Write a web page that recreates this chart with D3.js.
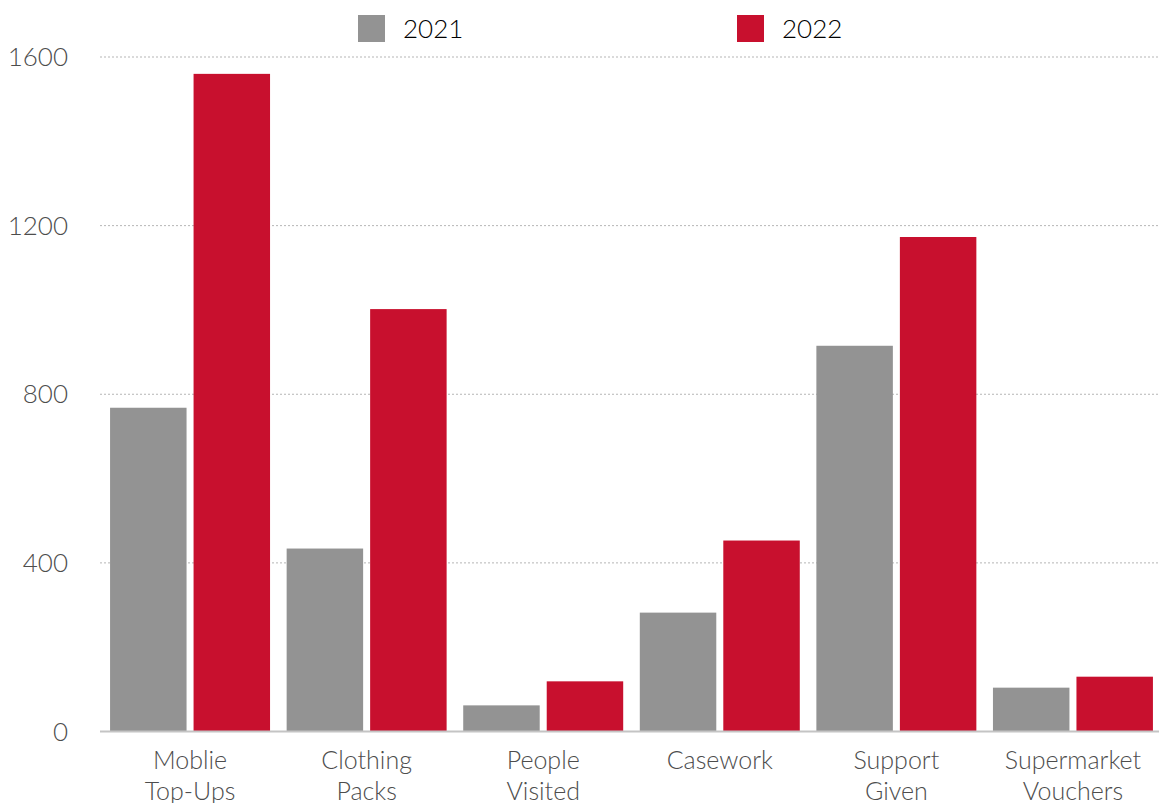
<!DOCTYPE html>
<html>
<head>
<meta charset="utf-8">
<script src="https://cdn.jsdelivr.net/npm/d3@7"></script>
<style>
  body { margin: 0; background: #fff; }
  text { font-family: Lato, "Open Sans", sans-serif; font-weight: 300; }
</style>
</head>
<body>
<div id="chart"></div>
<script>
var categories = [["Moblie", "Top-Ups"], ["Clothing", "Packs"], ["People", "Visited"], ["Casework"], ["Support", "Given"], ["Supermarket", "Vouchers"]];
var years = ["2021", "2022"];
var values2021 = [768, 434, 62, 282, 915, 104];
var values2022 = [1560, 1002, 119, 453, 1173, 130];
var yTicks = [0, 400, 800, 1200, 1600];
var colors = ["#939393", "#c8102e"];

var svgWidth = 1159;
var svgHeight = 803;
var margin = { top: 57, right: 0, bottom: 71.5, left: 100 };
var height = svgHeight - margin.bottom;

var svg = d3.select("#chart")
  .append("svg")
  .attr("width", svgWidth)
  .attr("height", svgHeight);

var rows = categories.map(function(c, i) {
  return { cat: i, vals: [values2021[i], values2022[i]] };
});

var x0 = d3.scaleBand()
  .domain(d3.range(categories.length))
  .range([margin.left, 1163])
  .paddingInner(0.094)
  .paddingOuter(0.057);
var x1 = d3.scaleBand()
  .domain(years)
  .range([0, x0.bandwidth()])
  .paddingInner(0.084);
var y = d3.scaleLinear()
  .domain([0, 1600])
  .range([height, margin.top]);

// grid lines
svg.append("g")
  .selectAll("line")
  .data(yTicks.slice(1))
  .enter()
  .append("line")
  .attr("x1", margin.left)
  .attr("x2", svgWidth)
  .attr("y1", d => y(d))
  .attr("y2", d => y(d))
  .attr("stroke", "#b5b5b5")
  .attr("stroke-width", 1)
  .attr("stroke-dasharray", "2,2");

// y labels
svg.append("g")
  .selectAll("text")
  .data(yTicks)
  .enter()
  .append("text")
  .attr("x", 68)
  .attr("y", d => y(d))
  .attr("dy", "0.35em")
  .attr("text-anchor", "end")
  .attr("font-size", 26)
  .attr("fill", "#4d4d4d")
  .text(d => d);

// bars
var groups = svg.append("g")
  .selectAll("g")
  .data(rows)
  .enter()
  .append("g")
  .attr("transform", d => `translate(${x0(d.cat)},0)`);
groups.selectAll("rect")
  .data(d => d.vals.map((v, j) => ({ year: years[j], v: v, j: j })))
  .enter()
  .append("rect")
  .attr("x", d => x1(d.year))
  .attr("width", x1.bandwidth())
  .attr("y", d => y(d.v))
  .attr("height", d => height - y(d.v))
  .attr("fill", d => colors[d.j]);

// x axis line
svg.append("line")
  .attr("x1", margin.left)
  .attr("x2", svgWidth)
  .attr("y1", height)
  .attr("y2", height)
  .attr("stroke", "#c4c4c4")
  .attr("stroke-width", 2);

// x labels
var xl = svg.append("g")
  .selectAll("text")
  .data(categories)
  .enter()
  .append("text")
  .attr("text-anchor", "middle")
  .attr("font-size", 25)
  .attr("fill", "#4d4d4d")
  .attr("transform", (d, i) => `translate(${x0(i) + x0.bandwidth() / 2},${height + 37})`);
xl.selectAll("tspan")
  .data(d => d)
  .enter()
  .append("tspan")
  .attr("x", 0)
  .attr("y", (d, i) => i * 31)
  .text(d => d);

// legend
var legendX = [358, 737];
var legend = svg.append("g")
  .selectAll("g")
  .data(years)
  .enter()
  .append("g")
  .attr("transform", (d, i) => `translate(${legendX[i]},15)`);
legend.append("rect")
  .attr("width", 27)
  .attr("height", 27)
  .attr("fill", (d, i) => colors[i]);
legend.append("text")
  .attr("x", 45)
  .attr("y", 13.5)
  .attr("dy", "0.35em")
  .attr("font-size", 26)
  .attr("fill", "#000")
  .text(d => d);
</script>
</body>
</html>
